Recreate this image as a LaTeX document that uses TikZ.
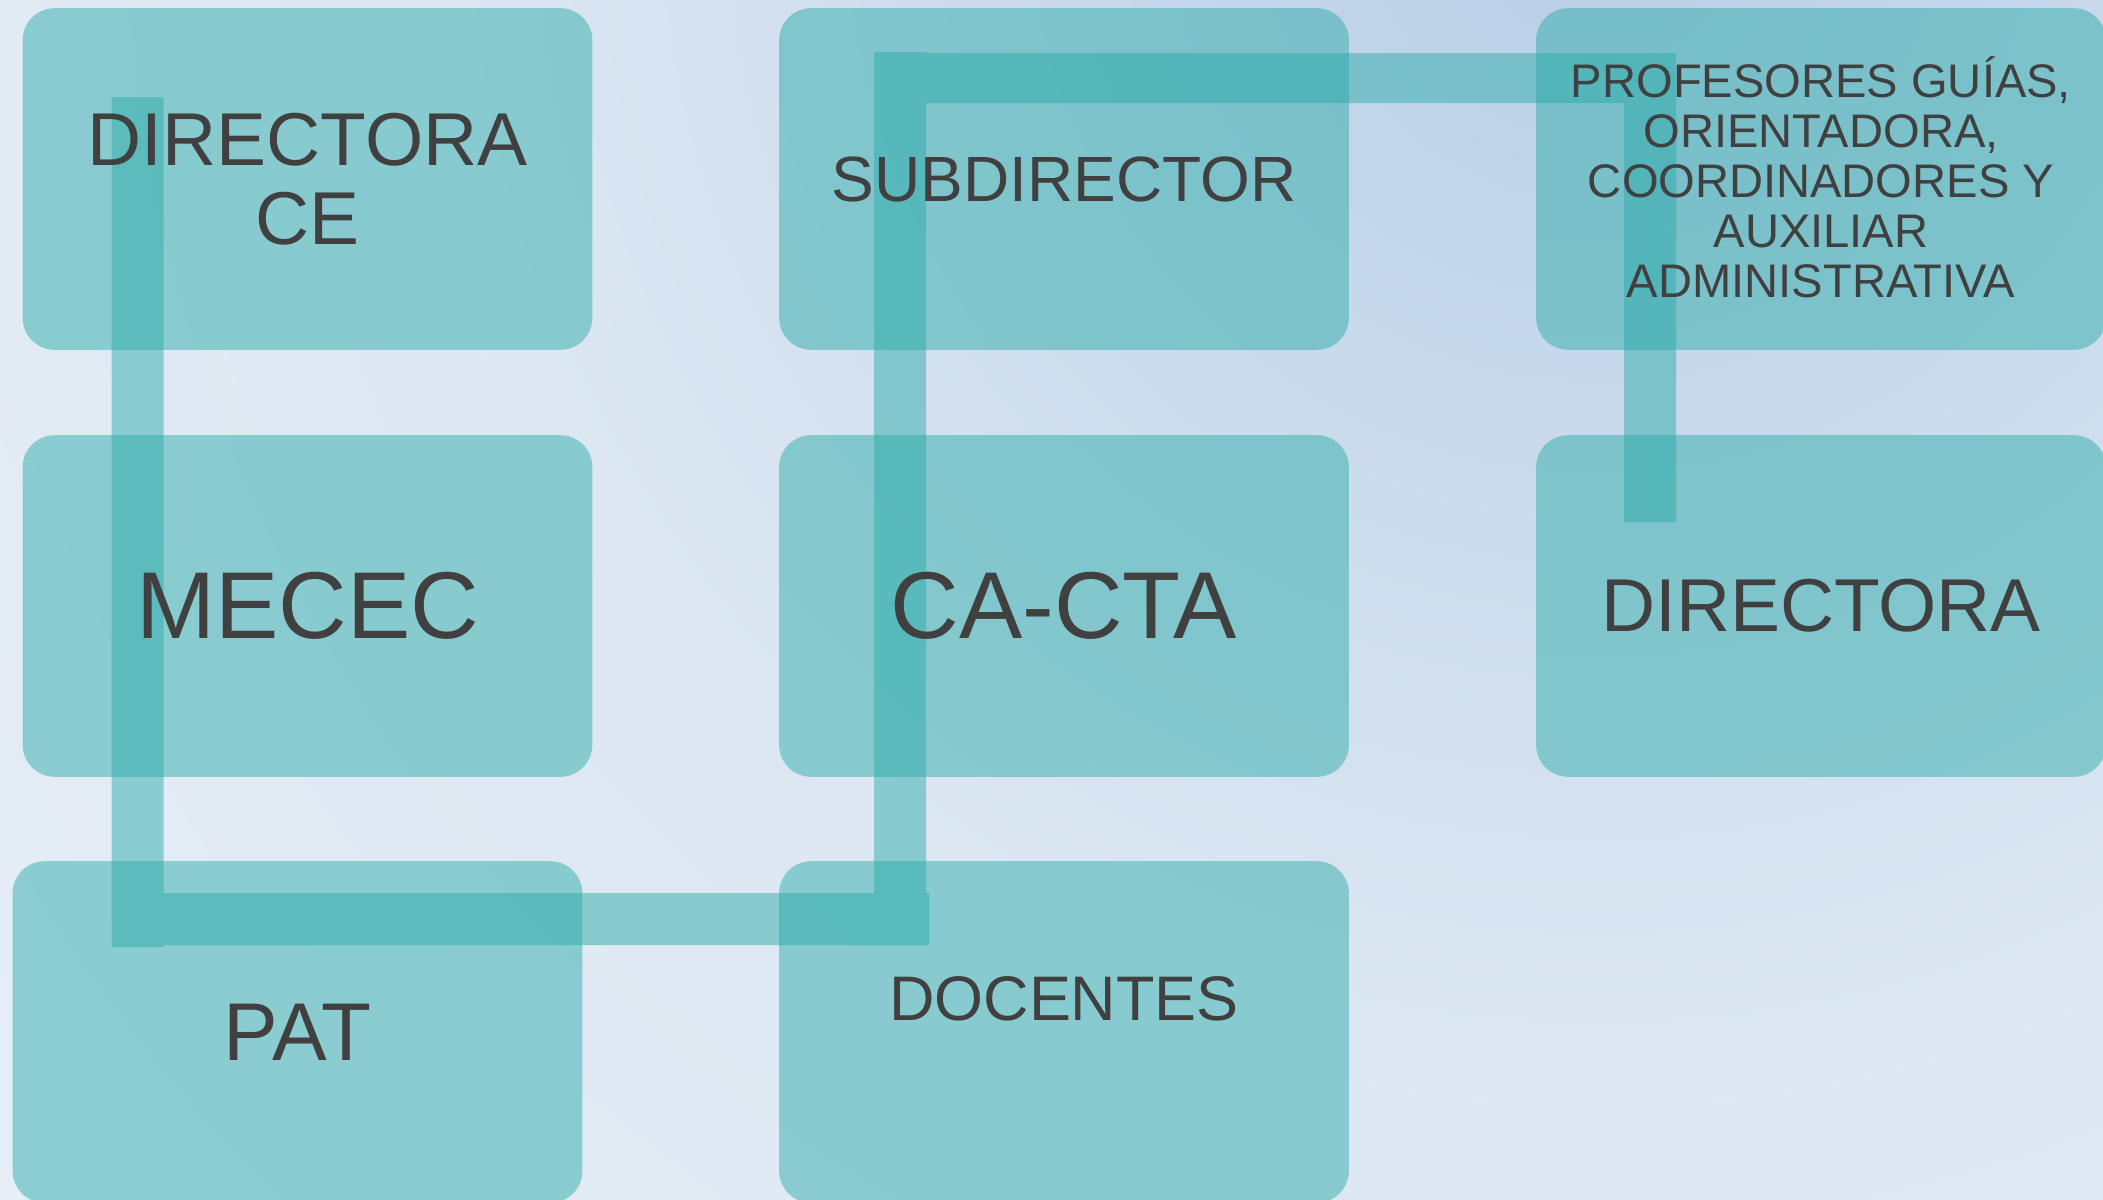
\documentclass[tikz,border=0pt]{standalone}
\usepackage{fontspec}
\setmainfont{Liberation Sans}
\usepackage{tikz}
\usetikzlibrary{calc}
\usepackage{xcolor}
\definecolor{bgtop}{HTML}{B8CEE6}
\definecolor{bgmid}{HTML}{DCE7F2}
\definecolor{bglow}{HTML}{EAF2F8}
\definecolor{boxteal}{HTML}{2BABA9}
\definecolor{txtgray}{HTML}{404040}
\pgfdeclarelayer{bg}
\pgfdeclarelayer{boxes}
\pgfdeclarelayer{links}
\pgfsetlayers{bg,boxes,links,main}
\pgfdeclareradialshading{bgglow}{\pgfpoint{0bp}{0bp}}{color(0bp)=(bgtop); color(13bp)=(bgmid); color(28bp)=(bglow); color(50bp)=(bglow)}

\begin{document}
\begin{tikzpicture}[
    x=0.01cm, y=-0.01cm,
    block/.style={rectangle, minimum width=5.68cm, minimum height=3.4cm, inner sep=0pt, text=txtgray, align=center},
    boxfill/.style={fill=boxteal, fill opacity=0.48, rounded corners=0.32cm},
    link/.style={draw=boxteal, line width=0.52cm}
]
    \useasboundingbox (0, 0) rectangle (2103, 1199);

    % Background
    \begin{pgfonlayer}{bg}
    \begin{scope}
        \clip (0, 0) rectangle (2103, 1199);
        \shade [shading=bgglow] (1600, -100) circle [radius=22cm];
    \end{scope}
    \end{pgfonlayer}

    % Row 1
    \node [block, font=\fontsize{21.3}{22.3}\selectfont] (dirce) at (307.5, 179) {DIRECTORA\\CE};
    \node [block, font=\fontsize{18.2}{19}\selectfont] (subdir) at (1064, 179) {SUBDIRECTOR};
    \node [block, font=\fontsize{13.4}{14.2}\selectfont] (profes) at (1821, 177) {PROFESORES GUÍAS,\\ORIENTADORA,\\COORDINADORES Y\\AUXILIAR\\ADMINISTRATIVA};

    % Row 2
    \node [block, font=\fontsize{27}{28}\selectfont] (mecec) at (307.5, 606) {MECEC};
    \node [block, font=\fontsize{27}{28}\selectfont] (cacta) at (1064, 606) {CA-CTA};
    \node [block, font=\fontsize{21.3}{22.3}\selectfont] (directora) at (1821, 606) {DIRECTORA};

    % Row 3
    \node [block, font=\fontsize{23.3}{24}\selectfont] (pat) at (297.5, 1032) {PAT};
    \node [block, font=\fontsize{17.9}{19}\selectfont, text depth=0.66cm] (docentes) at (1064, 1032) {DOCENTES};

    % Boxes
    \begin{pgfonlayer}{boxes}
        \fill [boxfill] (dirce.south west) rectangle (dirce.north east);
        \fill [boxfill] (subdir.south west) rectangle (subdir.north east);
        \fill [boxfill] ($(profes.south west)+(0, 2)$) rectangle ($(profes.north east)+(0, 2)$);
        \fill [boxfill] (mecec.south west) rectangle (mecec.north east);
        \fill [boxfill] (cacta.south west) rectangle (cacta.north east);
        \fill [boxfill] (directora.south west) rectangle (directora.north east);
        \fill [boxfill] (pat.south west) rectangle (pat.north east);
        \fill [boxfill] (docentes.south west) rectangle (docentes.north east);
    \end{pgfonlayer}

    % Links
    \begin{pgfonlayer}{links}
    \begin{scope}[transparency group, opacity=0.48]
        \draw [link] ($(dirce.north west)+(115, 89)$) -- ($(mecec.north west)+(115, 85)$);
        \draw [link] ($(mecec.north west)+(115, 85)$) -- ($(pat.north west)+(125, 86)$);
        \draw [link] ($(pat.north west)+(99.5, 58)$) -- ($(docentes.north west)+(150, 58)$);
        \draw [link] ($(docentes.north west)+(121, 39)$) -- ($(cacta.north west)+(121, 40)$);
        \draw [link] ($(cacta.north west)+(121, 40)$) -- ($(subdir.north west)+(121, 44)$);
        \draw [link, line width=0.5cm] ($(subdir.north west)+(142, 70)$) -- ($(profes.north west)+(140, 72)$);
        \draw [link] ($(profes.north west)+(114, 91)$) -- ($(directora.north west)+(114, 87)$);
    \end{scope}
    \end{pgfonlayer}
\end{tikzpicture}
\end{document}
